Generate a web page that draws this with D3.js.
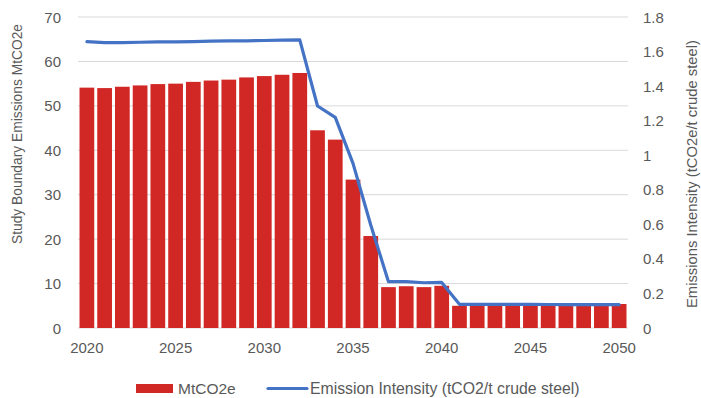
<!DOCTYPE html>
<html><head><meta charset="utf-8">
<script src="https://cdnjs.cloudflare.com/ajax/libs/d3/7.8.5/d3.min.js"></script>
<style>body{margin:0;background:#fff}text{font-family:"Liberation Sans",Arial,sans-serif;fill:#595959}</style>
</head><body><svg id="c" width="701" height="398"></svg>
<script>
const years = d3.range(2020, 2051);
const emissions = [54.1,54.0,54.3,54.6,54.9,55.0,55.4,55.7,55.9,56.4,56.7,57.0,57.4,44.5,42.4,33.4,20.7,9.2,9.4,9.2,9.5,5.0,5.0,5.0,5.0,5.0,5.0,5.0,5.0,5.0,5.4];
const intensity = [1.657,1.652,1.652,1.654,1.656,1.656,1.658,1.66,1.662,1.662,1.664,1.666,1.668,1.285,1.219,0.953,0.596,0.268,0.268,0.262,0.264,0.137,0.137,0.137,0.137,0.137,0.136,0.135,0.135,0.135,0.135];
const leftTicks = [0,10,20,30,40,50,60,70];
const rightTicks = [0,0.2,0.4,0.6,0.8,1,1.2,1.4,1.6,1.8];
const xLabels = [2020,2025,2030,2035,2040,2045,2050];

const svg = d3.select("#c");
const L = 78, R = 628, T = 17, B = 328;
const x = d3.scaleBand().domain(years).range([L, R]).paddingInner(0.17).paddingOuter(0.085);
const yL = d3.scaleLinear().domain([0,70]).range([B,T]);
const yR = d3.scaleLinear().domain([0,1.8]).range([B,T]);

// gridlines
svg.append("g").selectAll("line").data(leftTicks).join("line")
  .attr("x1", L).attr("x2", R).attr("y1", d=>yL(d)).attr("y2", d=>yL(d))
  .attr("stroke", "#d9d9d9").attr("stroke-width", 1);

// bars
svg.append("g").selectAll("rect").data(years).join("rect")
  .attr("x", d=>x(d)).attr("width", x.bandwidth())
  .attr("y", (d,i)=>yL(emissions[i])).attr("height", (d,i)=>yL(0)-yL(emissions[i]))
  .attr("fill", "#d12826");

// line
const line = d3.line().x((d,i)=>x(years[i])+x.bandwidth()/2).y(d=>yR(d));
svg.append("path").datum(intensity).attr("d", line)
  .attr("fill","none").attr("stroke","#4472c4").attr("stroke-width",3.2)
  .attr("stroke-linejoin","round").attr("stroke-linecap","round");

// left axis
const axL = d3.axisLeft(yL).tickValues(leftTicks).tickSize(0).tickPadding(0);
const gL = svg.append("g").attr("transform", `translate(${L-17},0)`).call(axL);
gL.select(".domain").remove();
gL.selectAll("text").attr("font-size", 15).attr("font-family", "Liberation Sans").attr("fill","#595959").attr("dy","0.34em");

// right axis
const axR = d3.axisRight(yR).tickValues(rightTicks).tickSize(0).tickPadding(0).tickFormat(d3.format("~g"));
const gR = svg.append("g").attr("transform", `translate(${R+15},0)`).call(axR);
gR.select(".domain").remove();
gR.selectAll("text").attr("font-size", 15).attr("font-family", "Liberation Sans").attr("fill","#595959").attr("dy","0.34em");

// x axis
const axX = d3.axisBottom(x).tickValues(xLabels).tickSize(0).tickPadding(0);
const gX = svg.append("g").attr("transform", `translate(0,${B+14})`).call(axX);
gX.select(".domain").remove();
gX.selectAll("text").attr("font-size", 15).attr("font-family", "Liberation Sans").attr("fill","#595959").attr("dy","0.71em");

// axis titles
svg.append("text").attr("transform","translate(22,134) rotate(-90)").attr("text-anchor","middle")
  .attr("font-size",13.8).text("Study Boundary Emissions MtCO2e");
svg.append("text").attr("transform","translate(697,174) rotate(-90)").attr("text-anchor","middle")
  .attr("font-size",14.8).text("Emissions Intensity (tCO2e/t crude steel)");

// legend
const lg = svg.append("g");
lg.append("rect").attr("x",136).attr("y",384).attr("width",37).attr("height",9).attr("fill","#d12826");
lg.append("text").attr("x",178).attr("y",388.5).attr("dy","0.35em").attr("font-size",15.5).text("MtCO2e");
lg.append("line").attr("x1",268).attr("x2",307).attr("y1",388.5).attr("y2",388.5).attr("stroke","#4472c4").attr("stroke-width",3.2).attr("stroke-linecap","round");
lg.append("text").attr("x",310).attr("y",388.5).attr("dy","0.35em").attr("font-size",15.8).text("Emission Intensity (tCO2/t crude steel)");
</script></body></html>
